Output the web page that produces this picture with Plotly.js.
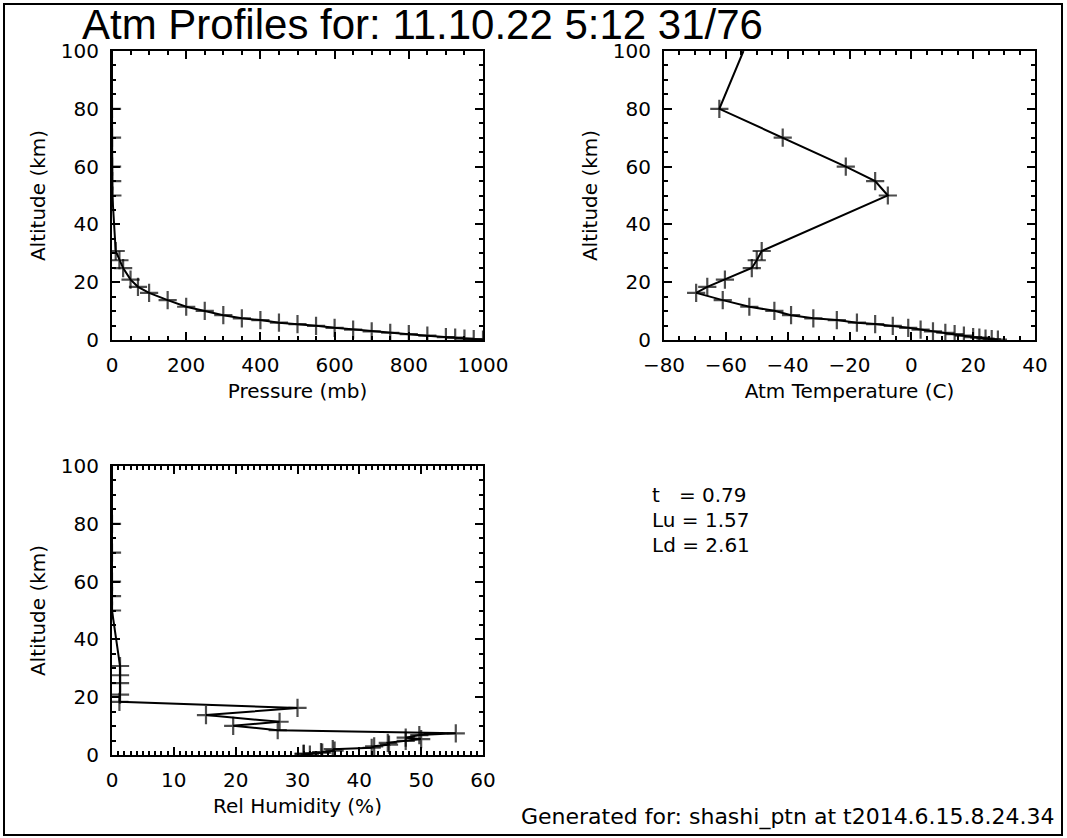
<!DOCTYPE html>
<html><head><meta charset="utf-8">
<script src="https://cdn.plot.ly/plotly-3.0.1.min.js"></script>
<style>html,body{margin:0;padding:0;background:#fff}</style>
</head><body><div id="chart" style="width:1067px;height:838px"></div>
<script>
// ---- data ----
const altitudeKm   = [0.1, 0.3, 0.5, 0.8, 1.0, 1.5, 2.0, 2.5, 3.0, 3.6, 4.2, 4.9, 5.5, 6.0, 6.9, 7.5, 8.6, 10.1, 11.5, 13.8, 16.3, 18.4, 20.9, 24.9, 27.6, 30.8, 50, 55, 60, 70, 80, 100];
const pressureMb   = [1000, 975, 950, 925, 900, 850, 800, 750, 700, 650, 600, 550, 500, 450, 400, 350, 300, 250, 200, 150, 100, 70, 50, 30, 20, 10, 1.0, 0.5, 0.2, 0.05, 0.01, 0.0003];
const temperatureC = [28, 26, 24, 22, 20, 17, 14, 11, 7, 3, -1, -6, -11.7, -17.6, -24.1, -31.7, -38.9, -44.3, -52.4, -61, -69.6, -66, -60.3, -51.6, -50, -48.4, -7.6, -11.7, -21.2, -41.6, -62.1, -54.3];
const relHumidity  = [32, 31, 31, 34, 33.8, 36, 35.7, 42, 42.4, 44.8, 44.6, 47.5, 50, 47.5, 49.7, 55.6, 26.8, 19.6, 27.1, 15.2, 30, 1.2, 1.3, 1.3, 1.3, 1.3, 0, 0, 0, 0, 0, 0];
const statNames  = ["t\u00a0\u00a0", "Lu", "Ld"];
const statValues = ["0.79", "1.57", "2.61"];
const titleText = "Atm Profiles for: 11.10.22 5:12 31/76";
const footerText = "Generated for: shashi_ptn at t2014.6.15.8.24.34";

// ---- layout helpers (pixel -> paper fraction) ----
const W = 1067, H = 838;
const fx = p => p / W;
const fy = p => 1 - p / H;
const tickFont = {family: 'DejaVu Sans', size: 20, color: 'black'};
const labFont  = {family: 'DejaVu Sans', size: 20, color: 'black'};

const markerSizes = altitudeKm.map(a => a >= 100 ? 0 : 13);

function mkTrace(xs, xa, ya) {
  return {
    x: xs, y: altitudeKm, xaxis: xa, yaxis: ya,
    type: 'scatter', mode: 'lines+markers', cliponaxis: true,
    line: {color: 'black', width: 2},
    marker: {symbol: 'cross-thin-open', size: markerSizes, color: 'black', line: {color: 'black', width: 2.2}},
    hoverinfo: 'skip', showlegend: false
  };
}

function axis(domain, range, dtick, minorDtick, title, anchor) {
  const isX = anchor.startsWith('y');
  return {
    domain: domain, range: range, anchor: anchor,
    showline: true, linecolor: 'black', linewidth: 2, mirror: 'allticks',
    ticks: 'inside', ticklen: 8, tickwidth: 2, tickcolor: 'black',
    showgrid: false, zeroline: false, fixedrange: true,
    tick0: range[0], dtick: dtick, tickfont: tickFont,
    ticklabelstandoff: isX ? 6 : 7,
    minor: {ticks: 'inside', ticklen: 4, tickwidth: 2, tickcolor: 'black', dtick: minorDtick, showgrid: false},
    title: {text: title, font: labFont, standoff: isX ? 8 : 10}
  };
}

const traces = [
  mkTrace(pressureMb, 'x', 'y'),
  mkTrace(temperatureC, 'x2', 'y2'),
  mkTrace(relHumidity, 'x3', 'y3')
];

const layout = {
  width: W, height: H,
  margin: {l: 0, r: 0, t: 0, b: 0},
  paper_bgcolor: 'white', plot_bgcolor: 'white',
  showlegend: false,
  title: {text: titleText, x: fx(82), xanchor: 'left', y: fy(10), yanchor: 'top',
          font: {family: 'Liberation Sans', size: 42, color: 'black'}},
  xaxis:  axis([fx(112), fx(483)], [0, 1000], 200, 50, 'Pressure (mb)', 'y'),
  yaxis:  axis([fy(340), fy(51)], [0, 100], 20, 5, 'Altitude (km)', 'x'),
  xaxis2: axis([fx(664), fx(1035)], [-80, 40], 20, 5, 'Atm Temperature (C)', 'y2'),
  yaxis2: axis([fy(340), fy(51)], [0, 100], 20, 5, 'Altitude (km)', 'x2'),
  xaxis3: axis([fx(112), fx(483)], [0, 60], 10, 1, 'Rel Humidity (%)', 'y3'),
  yaxis3: axis([fy(755), fy(466)], [0, 100], 20, 5, 'Altitude (km)', 'x3'),
  annotations: statNames.map((n, i) => ({
    xref: 'paper', yref: 'paper', x: fx(650), y: fy(495 + 25 * i), xanchor: 'left', yanchor: 'middle',
    text: n + ' = ' + statValues[i], showarrow: false, font: labFont
  })).concat([{
    xref: 'paper', yref: 'paper', x: fx(1057), y: fy(817), xanchor: 'right', yanchor: 'middle',
    text: footerText, showarrow: false, font: {family: 'DejaVu Sans', size: 22, color: 'black'}
  }]),
  shapes: [{type: 'rect', xref: 'paper', yref: 'paper', x0: fx(4), x1: fx(1062), y0: fy(835), y1: fy(4),
            line: {color: 'black', width: 2}, fillcolor: 'rgba(0,0,0,0)'}]
};

Plotly.newPlot('chart', traces, layout, {staticPlot: true, displayModeBar: false});
</script>
</body></html>
